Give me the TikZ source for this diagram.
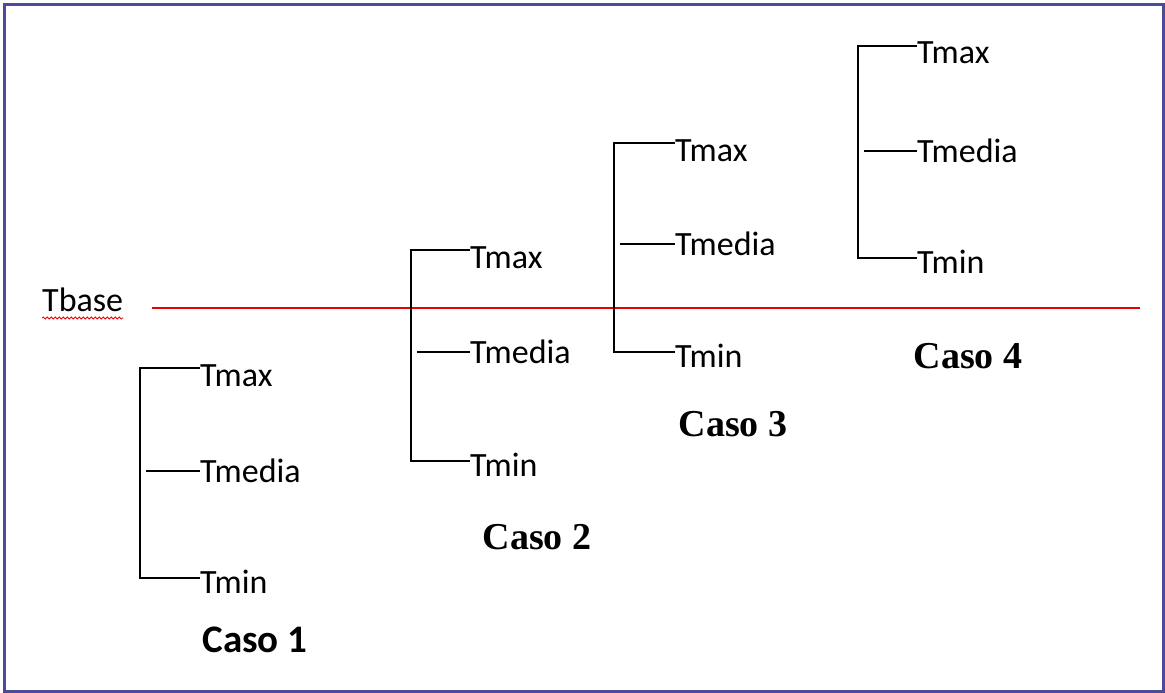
\documentclass[tikz,border=0pt]{standalone}
\usepackage{fontspec}
\setmainfont{Carlito}
\newfontfamily\serifbold{Liberation Serif}
\usetikzlibrary{decorations.pathmorphing}
\definecolor{frameblue}{RGB}{75,75,155}
\definecolor{basered}{RGB}{235,0,0}
\tikzset{
  lbl/.style={inner sep=0pt, anchor=base west, font=\fontsize{34}{40}\selectfont},
  bracketline/.style={line width=2.4pt, black},
  casosans/.style={inner sep=0pt, font=\fontsize{39}{45}\selectfont\bfseries},
  casoserif/.style={inner sep=0pt, font=\fontsize{38}{44}\selectfont\serifbold\bfseries},
}
\begin{document}
\begin{tikzpicture}[x=1pt,y=-1pt]
\useasboundingbox (0,0) rectangle (1165,693);
\fill[white] (0,0) rectangle (1165,693);
\draw[frameblue, line width=3pt] (4.5,5) rectangle (1163,691);

% Tbase
\node[lbl] (tbase) at (42,311) {Tbase};
\draw[basered, line width=0.8pt, decorate, decoration={snake, amplitude=1pt, segment length=4pt}]
  ([yshift=-7pt]tbase.base west) -- ([yshift=-7pt]tbase.base east);
\coordinate (rl) at (152,308);
\coordinate (rr) at (1140,308);
\draw[basered, line width=2.2pt] (rl) -- (rr);

\foreach \n/\x/\t/\m/\b/\e in {1/140/368/471/578/200, 2/411/250/352/461/470, 3/614/143/244/352/675, 4/858/46/151/258/917} {
  \coordinate (top\n) at (\x,\t);
  \coordinate (bot\n) at (\x,\b);
  \coordinate (mid\n) at (\x+6,\m);
  \node[lbl] (max\n) at (\e,\t+18) {Tmax};
  \node[lbl] (media\n) at (\e,\m+11) {Tmedia};
  \node[lbl] (min\n) at (\e,\b+15) {Tmin};
  \draw[bracketline] (max\n.west |- top\n) -- (top\n) -- (bot\n) -- (min\n.west |- bot\n);
  \draw[bracketline] (mid\n) -- (media\n.west |- mid\n);
}

\node[casosans] (caso1) at (255,640) {Caso 1};
\node[casoserif] (caso2) at (537,537) {Caso 2};
\node[casoserif] (caso3) at (733,424) {Caso 3};
\node[casoserif] (caso4) at (968,356) {Caso 4};
\end{tikzpicture}
\end{document}
